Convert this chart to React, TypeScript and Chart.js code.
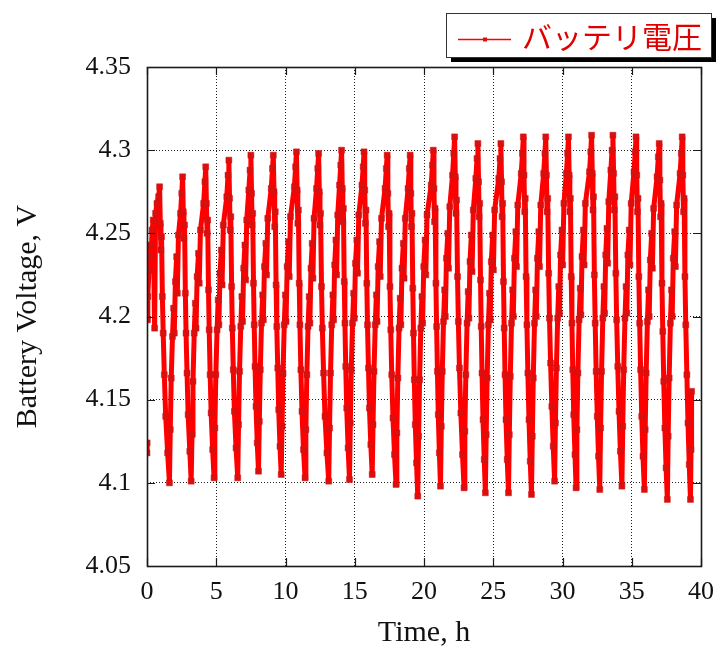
import { useEffect, useRef } from "react";
import { Chart, registerables } from "chart.js";

Chart.register(...registerables);

// Axis and legend text
const legendLabel = "バッテリ電圧";
const xAxisTitle = "Time, h";
const yAxisTitle = "Battery Voltage, V";

// Axis ranges
const xRange = [0, 40];
const xStep = 5;
const yRange = [4.05, 4.35];
const yStep = 0.05;

// First two readings, before the logger settles
const startTimes = [0, 0.01];
const startVolts = [4.118, 4.124];

// Charge / discharge cycles: time (h) and battery voltage (V), one row per cycle
const cycleTimes: number[][] = [
  [0.03, 0.06, 0.14, 0.22, 0.30, 0.37, 0.45, 0.55, 0.62, 0.72, 0.84, 0.91, 0.96, 1.01, 1.05, 1.11, 1.17, 1.25, 1.35, 1.49, 1.62],
  [1.68, 1.75, 1.84, 1.92, 1.97, 2.05, 2.14, 2.19, 2.27, 2.42, 2.51, 2.57, 2.62, 2.67, 2.71, 2.77, 2.82, 2.89, 2.97, 3.09, 3.19],
  [3.25, 3.32, 3.41, 3.49, 3.54, 3.62, 3.72, 3.77, 3.86, 4.09, 4.18, 4.24, 4.29, 4.34, 4.38, 4.44, 4.49, 4.56, 4.63, 4.74, 4.84],
  [4.90, 4.97, 5.06, 5.14, 5.19, 5.27, 5.37, 5.42, 5.51, 5.76, 5.85, 5.91, 5.96, 6.01, 6.05, 6.11, 6.16, 6.23, 6.31, 6.43, 6.55],
  [6.61, 6.68, 6.77, 6.85, 6.90, 6.98, 7.07, 7.12, 7.20, 7.35, 7.44, 7.50, 7.55, 7.59, 7.63, 7.69, 7.74, 7.80, 7.87, 7.96, 8.05],
  [8.11, 8.18, 8.27, 8.35, 8.40, 8.48, 8.58, 8.63, 8.72, 8.97, 9.06, 9.12, 9.17, 9.22, 9.26, 9.32, 9.37, 9.44, 9.51, 9.60, 9.69],
  [9.75, 9.82, 9.91, 9.99, 10.04, 10.12, 10.22, 10.27, 10.36, 10.64, 10.73, 10.79, 10.84, 10.89, 10.93, 10.99, 11.04, 11.11, 11.19, 11.30, 11.41],
  [11.47, 11.54, 11.63, 11.71, 11.76, 11.84, 11.93, 11.98, 12.06, 12.24, 12.33, 12.39, 12.44, 12.49, 12.53, 12.60, 12.66, 12.75, 12.85, 12.99, 13.12],
  [13.18, 13.25, 13.34, 13.42, 13.47, 13.55, 13.64, 13.69, 13.77, 13.90, 13.99, 14.05, 14.10, 14.14, 14.18, 14.24, 14.29, 14.35, 14.42, 14.52, 14.62],
  [14.68, 14.75, 14.84, 14.92, 14.97, 15.05, 15.15, 15.20, 15.29, 15.52, 15.61, 15.67, 15.72, 15.77, 15.81, 15.87, 15.92, 15.99, 16.06, 16.16, 16.26],
  [16.32, 16.39, 16.48, 16.56, 16.61, 16.69, 16.79, 16.84, 16.93, 17.19, 17.28, 17.34, 17.39, 17.44, 17.48, 17.54, 17.60, 17.67, 17.76, 17.87, 17.98],
  [18.04, 18.11, 18.20, 18.28, 18.33, 18.41, 18.51, 18.56, 18.65, 18.85, 18.94, 19.00, 19.05, 19.09, 19.13, 19.19, 19.24, 19.30, 19.37, 19.46, 19.55],
  [19.61, 19.68, 19.77, 19.85, 19.90, 19.98, 20.08, 20.13, 20.22, 20.52, 20.61, 20.67, 20.72, 20.76, 20.80, 20.86, 20.91, 20.97, 21.03, 21.11, 21.19],
  [21.25, 21.32, 21.41, 21.49, 21.54, 21.62, 21.72, 21.77, 21.86, 22.06, 22.15, 22.21, 22.26, 22.31, 22.35, 22.42, 22.48, 22.56, 22.66, 22.78, 22.89],
  [22.95, 23.02, 23.11, 23.19, 23.24, 23.32, 23.42, 23.47, 23.56, 23.74, 23.83, 23.89, 23.94, 23.98, 24.02, 24.08, 24.13, 24.19, 24.26, 24.35, 24.43],
  [24.49, 24.56, 24.65, 24.73, 24.78, 24.86, 24.96, 25.01, 25.10, 25.40, 25.49, 25.55, 25.60, 25.64, 25.68, 25.74, 25.79, 25.85, 25.92, 26.01, 26.10],
  [26.16, 26.23, 26.32, 26.40, 26.45, 26.53, 26.63, 26.68, 26.77, 27.02, 27.11, 27.17, 27.22, 27.27, 27.31, 27.37, 27.43, 27.50, 27.58, 27.67, 27.76],
  [27.82, 27.89, 27.98, 28.06, 28.11, 28.19, 28.29, 28.34, 28.43, 28.64, 28.73, 28.79, 28.84, 28.89, 28.93, 29.00, 29.06, 29.14, 29.23, 29.33, 29.43],
  [29.49, 29.56, 29.65, 29.73, 29.78, 29.86, 29.96, 30.01, 30.10, 30.28, 30.37, 30.43, 30.48, 30.53, 30.57, 30.63, 30.68, 30.74, 30.81, 30.90, 30.98],
  [31.04, 31.11, 31.20, 31.28, 31.33, 31.41, 31.51, 31.56, 31.65, 31.95, 32.04, 32.10, 32.15, 32.20, 32.24, 32.30, 32.36, 32.43, 32.51, 32.60, 32.69],
  [32.75, 32.82, 32.91, 32.99, 33.04, 33.12, 33.21, 33.26, 33.34, 33.49, 33.58, 33.64, 33.69, 33.74, 33.78, 33.85, 33.91, 33.99, 34.08, 34.18, 34.29],
  [34.35, 34.42, 34.51, 34.59, 34.64, 34.72, 34.82, 34.87, 34.96, 35.16, 35.25, 35.31, 35.36, 35.41, 35.45, 35.51, 35.57, 35.64, 35.72, 35.81, 35.91],
  [35.97, 36.04, 36.13, 36.21, 36.26, 36.34, 36.44, 36.49, 36.58, 36.83, 36.92, 36.98, 37.03, 37.08, 37.12, 37.18, 37.24, 37.31, 37.39, 37.48, 37.57],
  [37.63, 37.70, 37.79, 37.87, 37.92, 38.00, 38.10, 38.15, 38.24, 38.49, 38.58, 38.64, 38.69, 38.74, 38.78, 38.84, 38.90, 38.98, 39.06, 39.15, 39.24],
];

const cycleVolts: number[][] = [
  [4.198, 4.212, 4.228, 4.243, 4.236, 4.252, 4.258, 4.193, 4.262, 4.268, 4.272, 4.278, 4.256, 4.240, 4.248, 4.212, 4.190, 4.165, 4.140, 4.118, 4.100],
  [4.132, 4.163, 4.188, 4.205, 4.190, 4.221, 4.236, 4.214, 4.249, 4.262, 4.274, 4.284, 4.263, 4.247, 4.255, 4.214, 4.190, 4.166, 4.141, 4.119, 4.101],
  [4.129, 4.161, 4.190, 4.208, 4.193, 4.224, 4.238, 4.220, 4.252, 4.268, 4.281, 4.290, 4.268, 4.250, 4.258, 4.216, 4.192, 4.165, 4.142, 4.120, 4.103],
  [4.133, 4.165, 4.192, 4.210, 4.195, 4.226, 4.240, 4.219, 4.255, 4.272, 4.285, 4.294, 4.271, 4.252, 4.260, 4.218, 4.193, 4.168, 4.143, 4.121, 4.103],
  [4.135, 4.167, 4.194, 4.212, 4.197, 4.229, 4.243, 4.222, 4.258, 4.276, 4.288, 4.297, 4.274, 4.255, 4.262, 4.220, 4.195, 4.170, 4.146, 4.124, 4.107],
  [4.137, 4.168, 4.196, 4.213, 4.198, 4.230, 4.244, 4.225, 4.259, 4.277, 4.289, 4.297, 4.275, 4.254, 4.263, 4.219, 4.194, 4.169, 4.144, 4.122, 4.105],
  [4.134, 4.166, 4.195, 4.213, 4.197, 4.230, 4.245, 4.224, 4.260, 4.278, 4.290, 4.299, 4.276, 4.256, 4.264, 4.220, 4.195, 4.168, 4.143, 4.120, 4.103],
  [4.132, 4.165, 4.194, 4.212, 4.196, 4.229, 4.244, 4.223, 4.259, 4.277, 4.289, 4.298, 4.275, 4.255, 4.262, 4.218, 4.193, 4.166, 4.140, 4.118, 4.101],
  [4.133, 4.166, 4.195, 4.213, 4.198, 4.231, 4.246, 4.225, 4.261, 4.279, 4.291, 4.300, 4.277, 4.257, 4.265, 4.221, 4.196, 4.170, 4.145, 4.121, 4.102],
  [4.136, 4.168, 4.196, 4.214, 4.199, 4.232, 4.246, 4.226, 4.261, 4.279, 4.290, 4.299, 4.276, 4.256, 4.264, 4.220, 4.195, 4.169, 4.145, 4.123, 4.105],
  [4.135, 4.167, 4.195, 4.213, 4.197, 4.230, 4.245, 4.224, 4.259, 4.277, 4.289, 4.297, 4.274, 4.254, 4.262, 4.218, 4.192, 4.165, 4.139, 4.117, 4.099],
  [4.130, 4.163, 4.193, 4.211, 4.195, 4.229, 4.244, 4.223, 4.259, 4.277, 4.289, 4.297, 4.274, 4.254, 4.262, 4.217, 4.190, 4.162, 4.135, 4.112, 4.092],
  [4.128, 4.162, 4.193, 4.212, 4.196, 4.230, 4.246, 4.225, 4.261, 4.279, 4.291, 4.300, 4.277, 4.257, 4.265, 4.220, 4.194, 4.167, 4.141, 4.118, 4.098],
  [4.134, 4.167, 4.197, 4.216, 4.200, 4.235, 4.250, 4.229, 4.266, 4.285, 4.298, 4.308, 4.284, 4.262, 4.270, 4.224, 4.197, 4.169, 4.142, 4.117, 4.097],
  [4.131, 4.165, 4.196, 4.215, 4.199, 4.233, 4.249, 4.227, 4.264, 4.283, 4.295, 4.304, 4.281, 4.260, 4.268, 4.222, 4.194, 4.166, 4.138, 4.114, 4.094],
  [4.129, 4.163, 4.195, 4.214, 4.198, 4.233, 4.249, 4.228, 4.264, 4.283, 4.295, 4.304, 4.281, 4.260, 4.268, 4.221, 4.193, 4.165, 4.138, 4.114, 4.094],
  [4.129, 4.164, 4.196, 4.216, 4.200, 4.235, 4.251, 4.230, 4.267, 4.286, 4.298, 4.308, 4.285, 4.263, 4.271, 4.224, 4.195, 4.166, 4.138, 4.113, 4.093],
  [4.128, 4.163, 4.196, 4.216, 4.200, 4.235, 4.251, 4.230, 4.267, 4.286, 4.298, 4.308, 4.285, 4.263, 4.271, 4.226, 4.199, 4.172, 4.146, 4.122, 4.101],
  [4.136, 4.169, 4.199, 4.218, 4.202, 4.237, 4.252, 4.231, 4.268, 4.286, 4.298, 4.308, 4.285, 4.263, 4.271, 4.224, 4.196, 4.168, 4.141, 4.117, 4.097],
  [4.132, 4.166, 4.198, 4.217, 4.201, 4.236, 4.252, 4.231, 4.268, 4.287, 4.299, 4.309, 4.286, 4.264, 4.272, 4.225, 4.196, 4.167, 4.140, 4.116, 4.096],
  [4.133, 4.167, 4.199, 4.218, 4.202, 4.237, 4.253, 4.232, 4.269, 4.288, 4.300, 4.309, 4.286, 4.264, 4.272, 4.226, 4.198, 4.170, 4.143, 4.119, 4.098],
  [4.134, 4.168, 4.199, 4.218, 4.202, 4.237, 4.252, 4.231, 4.268, 4.287, 4.299, 4.308, 4.285, 4.263, 4.271, 4.224, 4.196, 4.168, 4.140, 4.116, 4.096],
  [4.132, 4.166, 4.197, 4.216, 4.200, 4.234, 4.250, 4.229, 4.265, 4.284, 4.296, 4.304, 4.282, 4.260, 4.268, 4.220, 4.191, 4.161, 4.133, 4.109, 4.090],
  [4.128, 4.163, 4.196, 4.216, 4.200, 4.235, 4.251, 4.230, 4.267, 4.286, 4.298, 4.308, 4.285, 4.263, 4.271, 4.224, 4.195, 4.165, 4.136, 4.111, 4.090],
];

// Last readings after the final discharge
const endTimes = [39.28, 39.32];
const endVolts = [4.12, 4.155];

const LINE_RED = "#ff0000";
const MARK_RED = "#d81010";
const SERIF = "'Liberation Serif', 'Times New Roman', serif";

function buildPoints() {
  const pts: { x: number; y: number | null }[] = [];
  startTimes.forEach((t, i) => pts.push({ x: t, y: startVolts[i] }));
  pts.push({ x: 0.02, y: null });
  cycleTimes.forEach((row, c) => row.forEach((t, i) => pts.push({ x: t, y: cycleVolts[c][i] })));
  endTimes.forEach((t, i) => pts.push({ x: t, y: endVolts[i] }));
  return pts;
}

// Tick labels without trailing zeros: 4.3, 4.25, 4.2 ...
const trimLabel = (v: number | string) => String(Number(Number(v).toFixed(2)));

// Frame with inward tick marks on all four sides
const framePlugin = {
  id: "frameTicks",
  afterDatasetsDraw(chart: any) {
    const { ctx, chartArea } = chart;
    const { left, right, top, bottom } = chartArea;
    const xs = chart.scales.x;
    const ys = chart.scales.y;
    const len = 8;
    ctx.save();
    ctx.strokeStyle = "#1a1a1a";
    ctx.lineWidth = 1.2;
    ctx.beginPath();
    xs.ticks.forEach((t: any) => {
      const px = Math.round(xs.getPixelForValue(t.value)) + 0.5;
      ctx.moveTo(px, bottom);
      ctx.lineTo(px, bottom - len);
      ctx.moveTo(px, top);
      ctx.lineTo(px, top + len);
    });
    ys.ticks.forEach((t: any) => {
      const py = Math.round(ys.getPixelForValue(t.value)) + 0.5;
      ctx.moveTo(left, py);
      ctx.lineTo(left + len, py);
      ctx.moveTo(right, py);
      ctx.lineTo(right - len, py);
    });
    ctx.stroke();
    ctx.lineWidth = 1.6;
    ctx.strokeRect(Math.round(left) + 0.5, Math.round(top) + 0.5, Math.round(right - left), Math.round(bottom - top));
    ctx.restore();
  },
};

// Boxed legend with drop shadow, top right
const legendBoxPlugin = {
  id: "legendBox",
  afterDraw(chart: any) {
    const { ctx } = chart;
    const bx = 446;
    const by = 13;
    const bw = 265;
    const bh = 44;
    ctx.save();
    ctx.fillStyle = "#000";
    ctx.fillRect(bx + 5, by + 5, bw, bh);
    ctx.fillStyle = "#fff";
    ctx.fillRect(bx, by, bw, bh);
    ctx.strokeStyle = "#333";
    ctx.lineWidth = 1;
    ctx.strokeRect(bx + 0.5, by + 0.5, bw, bh);
    const ly = by + 26.5;
    ctx.strokeStyle = LINE_RED;
    ctx.lineWidth = 1.5;
    ctx.beginPath();
    ctx.moveTo(bx + 12, ly);
    ctx.lineTo(bx + 65, ly);
    ctx.stroke();
    ctx.fillStyle = MARK_RED;
    ctx.fillRect(bx + 37, ly - 2, 4, 4);
    ctx.fillStyle = "#e00000";
    ctx.font = "30px 'Noto Sans CJK JP', sans-serif";
    ctx.textBaseline = "middle";
    ctx.textAlign = "left";
    ctx.fillText(legendLabel, bx + 76, by + 24);
    ctx.restore();
  },
};

export default function App() {
  const canvasRef = useRef<HTMLCanvasElement | null>(null);

  useEffect(() => {
    const canvas = canvasRef.current;
    if (!canvas) return;
    const chart = new Chart(canvas, {
      type: "line",
      data: {
        datasets: [
          {
            label: legendLabel,
            data: buildPoints() as any,
            borderColor: LINE_RED,
            borderWidth: 5,
            pointStyle: "rect",
            pointRadius: 4.2,
            pointBackgroundColor: MARK_RED,
            pointBorderColor: MARK_RED,
            pointBorderWidth: 0.5,
            tension: 0,
            spanGaps: false,
            fill: false,
          },
        ],
      },
      options: {
        responsive: false,
        animation: false,
        parsing: true,
        layout: { padding: { top: 67, right: 18, bottom: 0, left: 0 } },
        plugins: {
          legend: { display: false },
          tooltip: { enabled: false },
        },
        scales: {
          x: {
            type: "linear",
            min: xRange[0],
            max: xRange[1],
            afterFit: (s: any) => {
              s.height = 86;
            },
            ticks: {
              stepSize: xStep,
              color: "#111",
              padding: 11,
              font: { family: SERIF, size: 26 },
              callback: trimLabel,
            },
            grid: { color: "#222", lineWidth: 1, drawTicks: false },
            border: { display: false, dash: [1, 2] },
            title: {
              display: true,
              text: xAxisTitle,
              color: "#111",
              font: { family: SERIF, size: 30 },
              padding: { top: 0, bottom: 1 },
            },
          },
          y: {
            type: "linear",
            min: yRange[0],
            max: yRange[1],
            afterFit: (s: any) => {
              s.width = 147;
            },
            ticks: {
              stepSize: yStep,
              color: "#111",
              padding: 16,
              font: { family: SERIF, size: 26 },
              callback: trimLabel,
            },
            grid: { color: "#222", lineWidth: 1, drawTicks: false },
            border: { display: false, dash: [1, 2] },
            title: {
              display: true,
              text: yAxisTitle,
              color: "#111",
              font: { family: SERIF, size: 30 },
              padding: { top: 10, bottom: 0 },
            },
          },
        },
      },
      plugins: [framePlugin, legendBoxPlugin],
    });
    return () => chart.destroy();
  }, []);

  return (
    <div style={{ position: "fixed", left: 0, top: 0, width: 725, height: 652, background: "#fff" }}>
      <canvas ref={canvasRef} width={725} height={652} style={{ display: "block" }} />
    </div>
  );
}
